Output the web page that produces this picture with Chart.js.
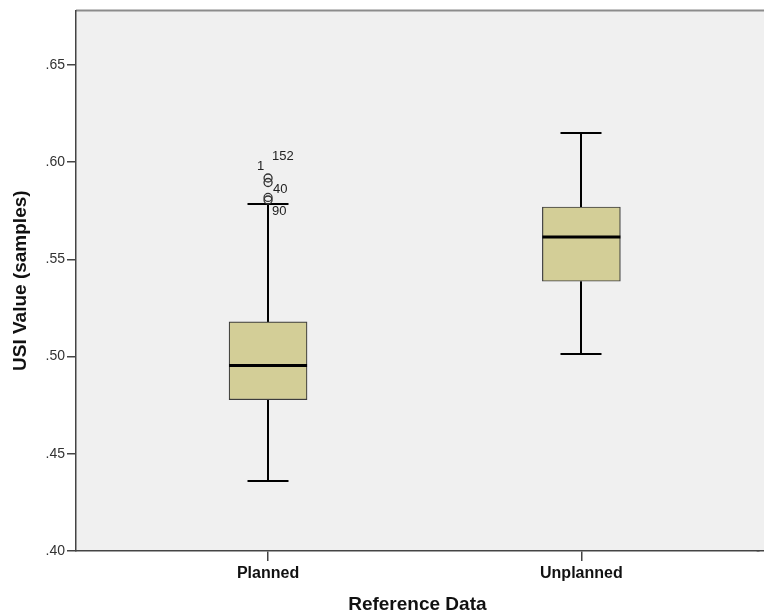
<!DOCTYPE html>
<html>
<head>
<meta charset="utf-8">
<script src="https://cdn.jsdelivr.net/npm/chart.js@4.4.1/dist/chart.umd.min.js"></script>
<style>
  html, body { margin: 0; padding: 0; background: #ffffff; }
  canvas { display: block; }
</style>
</head>
<body>
<canvas id="chart" width="764" height="614"></canvas>
<script>
// Five-number summaries per group
const categories  = ['Planned', 'Unplanned'];
const whiskerLow  = [0.4361, 0.5012];
const quartile1   = [0.4778, 0.5387];
const medians     = [0.4954, 0.5615];
const quartile3   = [0.5178, 0.5769];
const whiskerHigh = [0.5782, 0.6152];

// Outlying cases (group index, value, case number)
const outlierGroup  = [0, 0, 0, 0];
const outlierValues = [0.5918, 0.5895, 0.5818, 0.5805];
const outlierCases  = ['152', '1', '40', '90'];

// Value axis
const yTickValues = [0.40, 0.45, 0.50, 0.55, 0.60, 0.65];
const yTickLabels = ['.40', '.45', '.50', '.55', '.60', '.65'];
const yRange      = [0.40, 0.678];

// Pixel nudges that keep overlapping case numbers readable
const caseLabelNudge = [[4, -21.7], [-11, -15.6], [5, -8.2], [4, 11.3]];

const FONT = '"Liberation Sans", Arial, Helvetica, sans-serif';
const CAP_HALF = 20.5;
const AXIS_WIDTH = 1.5;

const boxPlotPlugin = {
  id: 'boxPlot',
  beforeDraw(chart) {
    const { ctx, chartArea: a } = chart;
    ctx.save();
    ctx.fillStyle = '#f0f0f0';
    ctx.fillRect(a.left, a.top, chart.width - a.left, a.bottom - a.top);
    ctx.strokeStyle = '#8c8c8c';
    ctx.lineWidth = 2;
    ctx.beginPath();
    ctx.moveTo(a.left, a.top);
    ctx.lineTo(chart.width, a.top);
    ctx.stroke();
    ctx.restore();
  },
  beforeDatasetsDraw(chart) {
    const { ctx, scales: { x, y } } = chart;
    ctx.save();
    ctx.strokeStyle = '#000000';
    ctx.lineWidth = 2;
    categories.forEach((_, i) => {
      const cx = Math.round(x.getPixelForValue(i));
      const pairs = [[whiskerLow[i], quartile1[i]], [quartile3[i], whiskerHigh[i]]];
      pairs.forEach(([a, b]) => {
        ctx.beginPath();
        ctx.moveTo(cx, y.getPixelForValue(a));
        ctx.lineTo(cx, y.getPixelForValue(b));
        ctx.stroke();
      });
      [whiskerLow[i], whiskerHigh[i]].forEach(v => {
        const py = Math.round(y.getPixelForValue(v));
        ctx.beginPath();
        ctx.moveTo(cx - CAP_HALF, py);
        ctx.lineTo(cx + CAP_HALF, py);
        ctx.stroke();
      });
    });
    ctx.restore();
  },
  afterDatasetsDraw(chart) {
    const { ctx, scales: { x, y } } = chart;
    const bars = chart.getDatasetMeta(0).data;
    ctx.save();
    ctx.strokeStyle = '#000000';
    ctx.lineWidth = 3;
    categories.forEach((_, i) => {
      const bar = bars[i];
      const half = bar.width / 2;
      const py = y.getPixelForValue(medians[i]);
      ctx.beginPath();
      ctx.moveTo(bar.x - half, py);
      ctx.lineTo(bar.x + half, py);
      ctx.stroke();
    });
    ctx.fillStyle = '#222222';
    ctx.font = '13px ' + FONT;
    ctx.textAlign = 'left';
    ctx.textBaseline = 'middle';
    outlierValues.forEach((v, k) => {
      const px = x.getPixelForValue(outlierGroup[k]);
      const py = y.getPixelForValue(v);
      ctx.fillText(outlierCases[k], px + caseLabelNudge[k][0], py + caseLabelNudge[k][1]);
    });
    ctx.restore();
  },
  afterDraw(chart) {
    // carry the category axis line out to the canvas edge
    const { ctx, chartArea: a, scales: { x } } = chart;
    const half = AXIS_WIDTH / 2;
    const yLine = Math.round(x.top - half) + half;
    ctx.save();
    ctx.strokeStyle = '#444444';
    ctx.lineWidth = AXIS_WIDTH;
    ctx.beginPath();
    ctx.moveTo(a.right - 2, yLine);
    ctx.lineTo(chart.width, yLine);
    ctx.stroke();
    ctx.restore();
  }
};

new Chart(document.getElementById('chart'), {
  type: 'bar',
  data: {
    datasets: [
      {
        type: 'bar',
        data: categories.map((_, i) => ({ x: i, y: [quartile1[i], quartile3[i]] })),
        backgroundColor: '#d3ce97',
        borderColor: '#3c3c3c',
        borderWidth: 1.2,
        borderSkipped: false,
        barThickness: 78
      },
      {
        type: 'scatter',
        data: outlierValues.map((v, k) => ({ x: outlierGroup[k], y: v })),
        pointStyle: 'circle',
        pointRadius: 4,
        pointBorderWidth: 1.3,
        pointBorderColor: '#333333',
        pointBackgroundColor: 'rgba(0,0,0,0)'
      }
    ]
  },
  options: {
    responsive: false,
    devicePixelRatio: 1,
    animation: false,
    layout: { padding: { top: 10, right: 0, left: 0, bottom: 0 } },
    plugins: { legend: { display: false }, tooltip: { enabled: false } },
    scales: {
      x: {
        type: 'linear',
        min: -0.613,
        max: 1.566,
        offset: false,
        afterBuildTicks(s) { s.ticks = categories.map((_, i) => ({ value: i })); },
        afterFit(s) { s.height = 63; },
        grid: { display: true, offset: false, drawOnChartArea: false, drawTicks: true, tickLength: 10, color: '#444444', lineWidth: AXIS_WIDTH },
        border: { display: true, color: '#444444', width: AXIS_WIDTH },
        ticks: {
          callback: (v, i) => categories[i],
          font: { family: FONT, size: 16, weight: 'bold' },
          color: '#111111',
          padding: 3,
          maxRotation: 0,
          autoSkip: false
        },
        title: {
          display: true,
          text: 'Reference Data',
          font: { family: FONT, size: 19, weight: 'bold', lineHeight: 1 },
          color: '#111111',
          padding: { top: 0, bottom: 0 }
        }
      },
      y: {
        type: 'linear',
        min: yRange[0],
        max: yRange[1],
        beginAtZero: false,
        afterBuildTicks(s) { s.ticks = yTickValues.map(v => ({ value: v })); },
        afterFit(s) { s.width = 76; },
        grid: { display: true, drawOnChartArea: false, drawTicks: true, tickLength: 9, color: '#444444', lineWidth: AXIS_WIDTH },
        border: { display: true, color: '#444444', width: AXIS_WIDTH },
        ticks: {
          callback: (v, i) => yTickLabels[i],
          font: { family: FONT, size: 14 },
          color: '#333333',
          padding: 2
        },
        title: {
          display: true,
          text: 'USI Value (samples)',
          font: { family: FONT, size: 19, weight: 'bold', lineHeight: 1 },
          color: '#111111',
          padding: { top: 11.5, bottom: 0 }
        }
      }
    }
  },
  plugins: [boxPlotPlugin]
});
</script>
</body>
</html>
